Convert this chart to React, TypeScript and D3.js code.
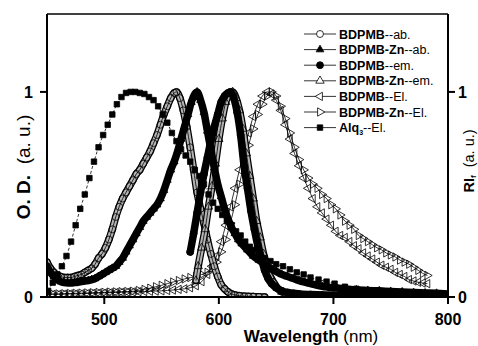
import React from "react";
import * as d3 from "d3";

const W = 478;
const H = 346;
const PLOT = { left: 47, right: 448, top: 14, bottom: 297 };

const xTicks = [500, 600, 700, 800];
const yTicks = [0, 1];

// BDPMB absorption (open circles)
const bdpmbAb: [number, number][] = [
  [450, 0.17], [453, 0.14], [456, 0.12], [459, 0.105], [462, 0.1], [465, 0.095], [468, 0.095],
  [471, 0.095], [474, 0.1], [477, 0.105], [480, 0.11], [483, 0.12], [486, 0.13], [489, 0.14],
  [492, 0.16], [495, 0.19], [498, 0.21], [501, 0.24], [504, 0.28], [507, 0.33], [510, 0.39],
  [513, 0.44], [516, 0.48], [519, 0.51], [522, 0.54], [525, 0.57], [528, 0.6], [531, 0.62],
  [534, 0.65], [537, 0.68], [540, 0.71], [543, 0.75], [546, 0.79], [549, 0.84], [552, 0.89],
  [555, 0.93], [558, 0.97], [561, 0.995], [563, 1.0], [566, 0.97], [569, 0.91], [572, 0.83],
  [575, 0.73], [578, 0.62], [581, 0.51], [584, 0.43], [587, 0.36], [590, 0.28], [593, 0.21],
  [596, 0.15], [599, 0.1], [602, 0.06], [605, 0.04], [608, 0.025], [611, 0.015], [614, 0.01],
  [618, 0.006], [622, 0.004], [626, 0.003], [630, 0.002], [635, 0.001], [640, 0.0],
];

// BDPMB-Zn absorption (filled triangles)
const znAb: [number, number][] = [
  [450, 0.15], [453, 0.12], [456, 0.1], [459, 0.085], [462, 0.075], [465, 0.07], [468, 0.068],
  [471, 0.068], [474, 0.07], [477, 0.072], [480, 0.075], [483, 0.078], [486, 0.08], [489, 0.085],
  [492, 0.09], [495, 0.1], [498, 0.11], [501, 0.12], [504, 0.13], [507, 0.14], [510, 0.15],
  [513, 0.17], [516, 0.19], [519, 0.22], [522, 0.25], [525, 0.28], [528, 0.31], [531, 0.34],
  [534, 0.37], [537, 0.39], [540, 0.41], [543, 0.43], [546, 0.45], [549, 0.48], [552, 0.52],
  [555, 0.57], [558, 0.62], [561, 0.66], [564, 0.71], [567, 0.77], [570, 0.83], [573, 0.89],
  [576, 0.95], [579, 0.99], [581, 1.0], [584, 0.96], [587, 0.9], [590, 0.81], [593, 0.72],
  [596, 0.63], [599, 0.55], [602, 0.49], [605, 0.43], [608, 0.38], [611, 0.34], [614, 0.31],
  [617, 0.28], [620, 0.26], [625, 0.23], [630, 0.2], [635, 0.18], [640, 0.16], [645, 0.14],
  [650, 0.125], [655, 0.11], [660, 0.1], [665, 0.09], [670, 0.08], [675, 0.072], [680, 0.065],
  [685, 0.058], [690, 0.052], [695, 0.048], [700, 0.045], [710, 0.04], [720, 0.035],
  [730, 0.032], [740, 0.03], [750, 0.027], [760, 0.025], [770, 0.022], [780, 0.02],
  [790, 0.018], [800, 0.015],
];

// BDPMB emission (filled circles)
const bdpmbEm: [number, number][] = [
  [575, 0.22], [578, 0.31], [581, 0.41], [584, 0.51], [587, 0.6], [590, 0.68], [593, 0.76],
  [596, 0.83], [599, 0.89], [602, 0.95], [605, 0.98], [608, 0.995], [610, 1.0], [613, 0.97],
  [616, 0.9], [619, 0.79], [622, 0.64], [625, 0.53], [628, 0.42], [631, 0.33], [634, 0.25],
  [637, 0.19], [640, 0.13], [643, 0.09], [646, 0.065], [650, 0.045], [655, 0.03], [660, 0.022],
  [665, 0.018], [670, 0.015], [680, 0.012], [690, 0.01], [700, 0.008], [710, 0.007],
  [720, 0.006], [730, 0.005], [740, 0.005], [750, 0.004], [760, 0.004], [770, 0.003],
  [780, 0.003], [790, 0.003], [800, 0.003],
];

// BDPMB-Zn emission (open triangles)
const znEm: [number, number][] = [
  [580, 0.08], [582, 0.15], [585, 0.24], [588, 0.33], [591, 0.44], [594, 0.54], [597, 0.65],
  [600, 0.77], [603, 0.87], [606, 0.95], [609, 0.99], [612, 1.0], [615, 0.97], [618, 0.91],
  [621, 0.82], [624, 0.7], [627, 0.59], [630, 0.48], [633, 0.37], [636, 0.29], [639, 0.21],
  [642, 0.15], [645, 0.1], [648, 0.07], [651, 0.045], [655, 0.025], [660, 0.015], [665, 0.01],
  [670, 0.008], [680, 0.005], [690, 0.004], [700, 0.003], [710, 0.002], [720, 0.002],
];

// BDPMB electroluminescence (left triangles)
const bdpmbEl: [number, number][] = [
  [450, 0.012], [455, 0.013], [460, 0.013], [465, 0.014], [470, 0.015], [475, 0.015],
  [480, 0.016], [485, 0.017], [490, 0.018], [495, 0.019], [500, 0.02], [505, 0.021],
  [510, 0.022], [515, 0.023], [520, 0.024], [525, 0.025], [530, 0.026], [535, 0.027],
  [540, 0.028], [545, 0.029], [550, 0.03], [555, 0.032], [560, 0.034], [565, 0.037],
  [570, 0.04], [575, 0.045], [580, 0.055], [585, 0.075], [590, 0.11], [594, 0.15],
  [598, 0.2], [602, 0.27], [606, 0.35], [610, 0.44], [614, 0.53], [618, 0.62], [622, 0.72],
  [626, 0.8], [630, 0.88], [634, 0.94], [638, 0.98], [642, 1.0], [646, 0.99], [650, 0.96],
  [654, 0.91], [658, 0.84], [662, 0.77], [666, 0.7], [670, 0.64], [674, 0.58], [678, 0.53],
  [682, 0.48], [686, 0.44], [690, 0.41], [694, 0.38], [698, 0.35], [702, 0.32], [706, 0.3],
  [710, 0.29], [714, 0.27], [718, 0.25], [722, 0.235], [726, 0.215], [730, 0.2], [734, 0.185],
  [738, 0.17], [742, 0.155], [746, 0.145], [750, 0.135], [754, 0.12], [758, 0.11], [762, 0.1],
  [766, 0.085], [770, 0.078], [774, 0.072], [778, 0.068], [782, 0.065],
];

// BDPMB-Zn electroluminescence (right triangles)
const znEl: [number, number][] = [
  [450, 0.014], [455, 0.015], [460, 0.015], [465, 0.016], [470, 0.017], [475, 0.018],
  [480, 0.019], [485, 0.02], [490, 0.021], [495, 0.022], [500, 0.023], [505, 0.024],
  [510, 0.025], [515, 0.026], [520, 0.027], [525, 0.028], [530, 0.032], [535, 0.037],
  [540, 0.043], [545, 0.05], [550, 0.057], [555, 0.065], [560, 0.073], [565, 0.08],
  [570, 0.088], [575, 0.095], [580, 0.1], [585, 0.11], [590, 0.12], [594, 0.14], [598, 0.17],
  [602, 0.22], [606, 0.28], [610, 0.36], [614, 0.45], [618, 0.55], [622, 0.65], [626, 0.74],
  [630, 0.82], [634, 0.89], [638, 0.94], [642, 0.98], [646, 1.0], [650, 0.98], [654, 0.93],
  [658, 0.87], [662, 0.8], [666, 0.73], [670, 0.67], [674, 0.62], [678, 0.58], [682, 0.55],
  [686, 0.53], [690, 0.5], [694, 0.48], [698, 0.45], [702, 0.43], [706, 0.4], [710, 0.37],
  [714, 0.35], [718, 0.33], [722, 0.3], [726, 0.285], [730, 0.27], [734, 0.255], [738, 0.24],
  [742, 0.23], [746, 0.215], [750, 0.205], [754, 0.195], [758, 0.18], [762, 0.17],
  [766, 0.16], [770, 0.145], [774, 0.13], [778, 0.115], [782, 0.105],
];

// Alq3 electroluminescence (filled squares)
const alq3El: [number, number][] = [
  [451, 0.03], [455, 0.07], [459, 0.11], [463, 0.15], [467, 0.2], [471, 0.27], [475, 0.35],
  [479, 0.43], [483, 0.5], [487, 0.58], [491, 0.66], [495, 0.73], [499, 0.79], [503, 0.84],
  [507, 0.89], [511, 0.94], [515, 0.975], [519, 0.995], [523, 1.0], [527, 1.0], [531, 0.995],
  [535, 0.99], [539, 0.975], [543, 0.96], [547, 0.93], [551, 0.89], [555, 0.85], [559, 0.8],
  [563, 0.76], [567, 0.72], [571, 0.69], [575, 0.66], [579, 0.62], [583, 0.59], [587, 0.55],
  [591, 0.5], [595, 0.46], [599, 0.43], [603, 0.4], [607, 0.37], [611, 0.35], [615, 0.32],
  [619, 0.3], [623, 0.27], [627, 0.245], [631, 0.23], [635, 0.21], [640, 0.19], [645, 0.175],
  [650, 0.16], [656, 0.15], [662, 0.135], [668, 0.12], [674, 0.11], [680, 0.095], [687, 0.085],
  [694, 0.075], [701, 0.065], [710, 0.05], [720, 0.04], [730, 0.032], [740, 0.027],
  [750, 0.022], [760, 0.018], [770, 0.015], [780, 0.012], [790, 0.01], [798, 0.008],
];

const legendBold = ["BDPMB", "BDPMB-Zn", "BDPMB", "BDPMB-Zn", "BDPMB", "BDPMB-Zn", "Alq"];
const legendRest = ["--ab.", "--ab.", "--em.", "--em.", "--El.", "--El.", "--El."];

type Marker = "circleOpen" | "triUpFilled" | "circleFilled" | "triUpOpen" | "triLeft" | "triRight" | "square";
type Band = "none" | "open" | "filled";

const SERIES: { data: [number, number][]; marker: Marker; band: Band; dashed?: boolean }[] = [
  { data: bdpmbAb, marker: "circleOpen", band: "open" },
  { data: znAb, marker: "triUpFilled", band: "filled" },
  { data: bdpmbEm, marker: "circleFilled", band: "filled" },
  { data: znEm, marker: "triUpOpen", band: "open" },
  { data: bdpmbEl, marker: "triLeft", band: "none" },
  { data: znEl, marker: "triRight", band: "none" },
  { data: alq3El, marker: "square", band: "none", dashed: true },
];

const DRAW_ORDER = [4, 5, 0, 3, 1, 2, 6];

function markerPath(m: Marker): { d: string; rot: number; fill: string } {
  const tri = d3.symbol().type(d3.symbolTriangle).size(30)() as string;
  const triS = d3.symbol().type(d3.symbolTriangle).size(26)() as string;
  switch (m) {
    case "circleOpen":
      return { d: d3.symbol().type(d3.symbolCircle).size(38)() as string, rot: 0, fill: "none" };
    case "circleFilled":
      return { d: d3.symbol().type(d3.symbolCircle).size(38)() as string, rot: 0, fill: "#000" };
    case "triUpFilled":
      return { d: triS, rot: 0, fill: "#000" };
    case "triUpOpen":
      return { d: tri, rot: 0, fill: "none" };
    case "triLeft":
      return { d: tri, rot: -90, fill: "none" };
    case "triRight":
      return { d: tri, rot: 90, fill: "none" };
    case "square":
      return { d: d3.symbol().type(d3.symbolSquare).size(30)() as string, rot: 0, fill: "#000" };
  }
}

export default function App() {
  const x = d3.scaleLinear().domain([450, 800]).range([PLOT.left, PLOT.right]);
  const y = d3.scaleLinear().domain([0, 1.38]).range([PLOT.bottom, PLOT.top]);
  const line = d3
    .line<[number, number]>()
    .x((d) => x(d[0]))
    .y((d) => y(d[1]))
    .curve(d3.curveMonotoneX);

  const font = "Arial, 'Liberation Sans', Helvetica, sans-serif";
  const legendX = 304;
  const legendY0 = 34;
  const legendStep = 15.6;

  return (
    <svg
      width={W}
      height={H}
      style={{ position: "absolute", left: 0, top: 0, background: "#fff" }}
      fontFamily={font}
    >
      <rect x={0} y={0} width={W} height={H} fill="#fff" />
      <defs>
        <clipPath id="plotClip">
          <rect x={PLOT.left} y={PLOT.top} width={PLOT.right - PLOT.left} height={PLOT.bottom - PLOT.top} />
        </clipPath>
      </defs>

      <g clipPath="url(#plotClip)">
        {DRAW_ORDER.map((i) => {
          const s = SERIES[i];
          const mk = markerPath(s.marker);
          const dPath = line(s.data) as string;
          return (
            <g key={i}>
              {s.band !== "none" ? (
                <path d={dPath} fill="none" stroke="#000" strokeWidth={7.5} strokeLinejoin="round" strokeLinecap="round" />
              ) : null}
              {s.band === "open" ? (
                <path d={dPath} fill="none" stroke="#b4b4b4" strokeWidth={5} strokeLinejoin="round" strokeLinecap="round" />
              ) : null}
              <path
                d={dPath}
                fill="none"
                stroke="#000"
                strokeWidth={0.8}
                strokeDasharray={s.dashed ? "3,2" : undefined}
              />
              {s.data.map((d, j) => (
                <path
                  key={j}
                  d={mk.d}
                  transform={`translate(${x(d[0])},${y(d[1])}) rotate(${mk.rot})`}
                  fill={mk.fill}
                  stroke="#000"
                  strokeWidth={0.8}
                />
              ))}
            </g>
          );
        })}
      </g>

      {/* frame */}
      <line x1={PLOT.left} x2={PLOT.right} y1={PLOT.top} y2={PLOT.top} stroke="#000" strokeWidth={1.5} />
      <line x1={PLOT.left} x2={PLOT.right} y1={PLOT.bottom} y2={PLOT.bottom} stroke="#000" strokeWidth={2} />
      <line x1={PLOT.left} x2={PLOT.left} y1={PLOT.top} y2={PLOT.bottom} stroke="#000" strokeWidth={2} />
      <line x1={PLOT.right} x2={PLOT.right} y1={PLOT.top} y2={PLOT.bottom} stroke="#000" strokeWidth={2} />

      {/* x ticks */}
      {xTicks.map((t) => (
        <g key={t}>
          <line x1={x(t)} x2={x(t)} y1={PLOT.bottom} y2={PLOT.bottom + 7} stroke="#000" strokeWidth={2} />
          <text x={x(t)} y={325} textAnchor="middle" fontSize={16} fontWeight="bold">
            {t}
          </text>
        </g>
      ))}

      {/* left y ticks */}
      {yTicks.map((t) => (
        <g key={"l" + t}>
          <line x1={PLOT.left - 7} x2={PLOT.left} y1={y(t)} y2={y(t)} stroke="#000" strokeWidth={2} />
          <text x={PLOT.left - 14} y={y(t) + 6} textAnchor="end" fontSize={16} fontWeight="bold">
            {t}
          </text>
        </g>
      ))}
      {/* right y ticks */}
      {yTicks.map((t) => (
        <g key={"r" + t}>
          <line x1={PLOT.right} x2={PLOT.right + 7} y1={y(t)} y2={y(t)} stroke="#000" strokeWidth={2} />
          <text x={PLOT.right + 10} y={y(t) + 6} textAnchor="start" fontSize={16} fontWeight="bold">
            {t}
          </text>
        </g>
      ))}

      {/* x title */}
      <text x={311} y={342} textAnchor="middle" fontSize={17}>
        <tspan fontWeight="bold">Wavelength</tspan>
        <tspan> (nm)</tspan>
      </text>

      {/* left y title */}
      <text transform="translate(30,167) rotate(-90)" textAnchor="middle" fontSize={19}>
        <tspan fontWeight="bold">O. D.</tspan>
        <tspan>{"\u00a0\u00a0(a. u.)"}</tspan>
      </text>

      {/* right y title */}
      <text transform="translate(474,161) rotate(-90)" textAnchor="middle" fontSize={14.5}>
        <tspan fontWeight="bold">RI</tspan>
        <tspan fontWeight="bold" fontSize={8} dy={2}>f</tspan>
        <tspan dy={-2}>{"\u00a0\u00a0(a. u.)"}</tspan>
      </text>

      {/* legend */}
      {SERIES.map((s, i) => {
        const mk = markerPath(s.marker);
        const ly = legendY0 + i * legendStep;
        return (
          <g key={"lg" + i}>
            <line x1={legendX} x2={legendX + 32} y1={ly} y2={ly} stroke="#000" strokeWidth={0.8} />
            <path
              d={mk.d}
              transform={`translate(${legendX + 16},${ly}) rotate(${mk.rot})`}
              fill={mk.fill === "none" ? "#fff" : mk.fill}
              stroke="#000"
              strokeWidth={0.8}
            />
            <text x={legendX + 35} y={ly + 4.5} fontSize={12.5}>
              <tspan fontWeight="bold">{legendBold[i]}</tspan>
              {i === 6 ? (
                <tspan fontWeight="bold" fontSize={7} dy={3}>3</tspan>
              ) : null}
              <tspan dy={i === 6 ? -3 : 0}>{legendRest[i]}</tspan>
            </text>
          </g>
        );
      })}
    </svg>
  );
}
